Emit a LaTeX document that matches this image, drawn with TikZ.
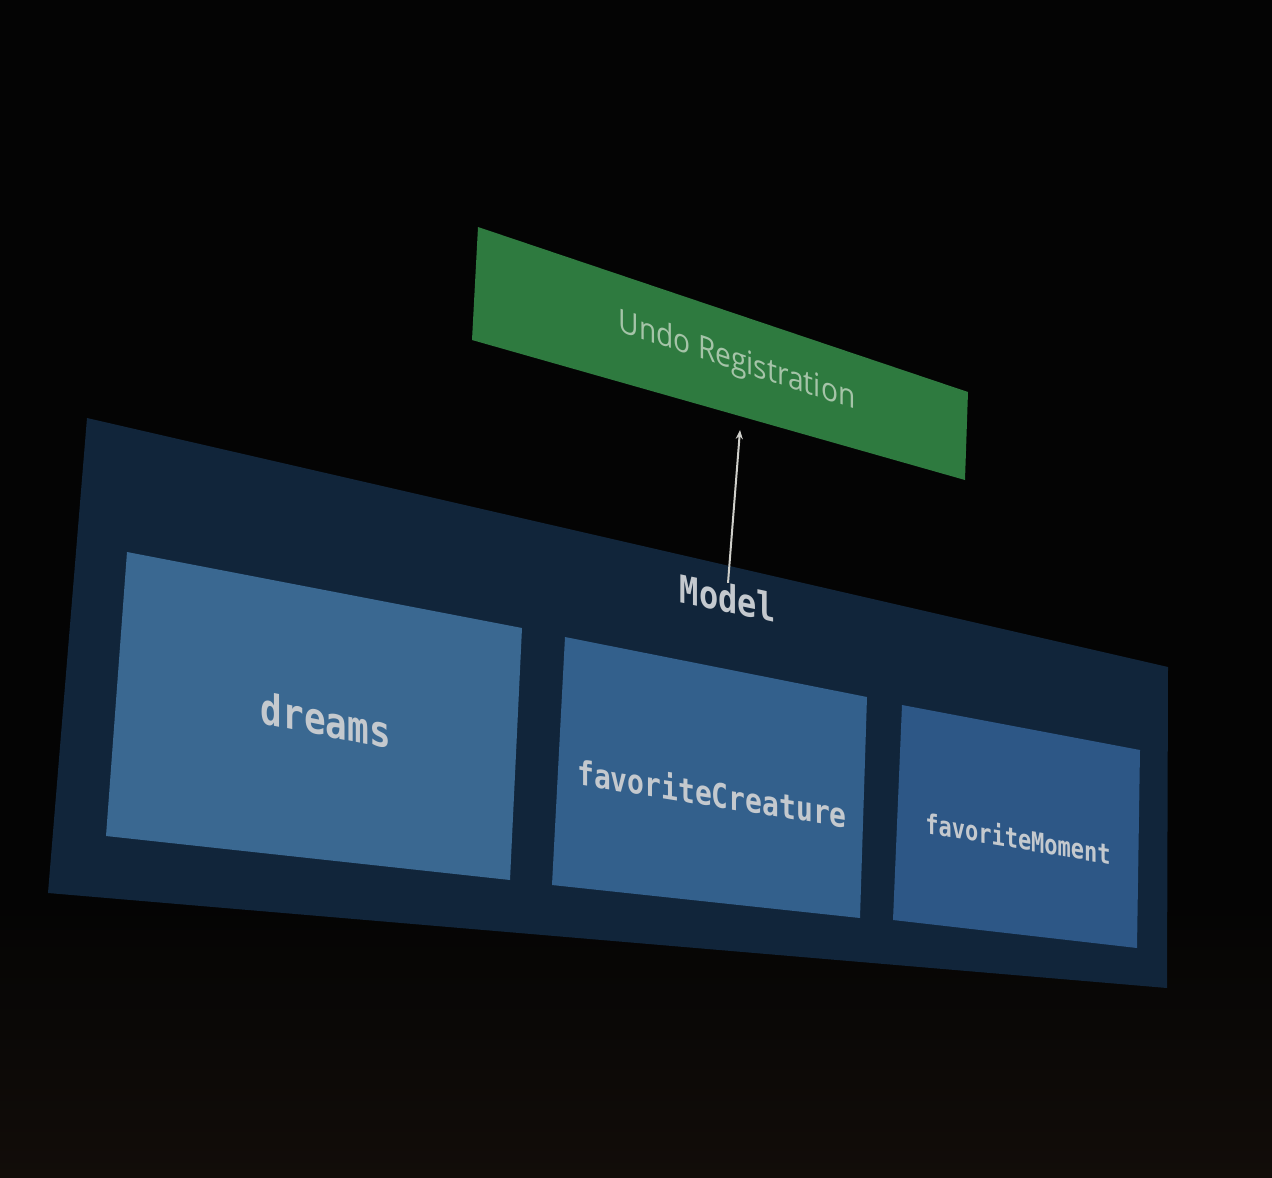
\documentclass[tikz,border=0pt]{standalone}
\usepackage{fontspec}
\setmainfont{Open Sans}
\newfontfamily\monofont{DejaVu Sans Mono}
\usetikzlibrary{arrows.meta}
\definecolor{bgc}{HTML}{040404}
\definecolor{bgbottom}{HTML}{120D09}
\definecolor{greenc}{HTML}{2E7A3F}
\definecolor{greentext}{HTML}{A5C4A8}
\definecolor{panelc}{HTML}{11253A}
\definecolor{boxa}{HTML}{3A6891}
\definecolor{boxb}{HTML}{33608C}
\definecolor{boxc}{HTML}{2D5786}
\definecolor{textc}{HTML}{C4C9CE}
\definecolor{arrowc}{HTML}{CFCFCA}
\tikzset{
  monolabel/.style={text=textc, inner sep=0pt},
  arrowline/.style={draw=arrowc, line width=2pt, -{Stealth[length=9pt,width=7pt]}}
}
\begin{document}
\begin{tikzpicture}[x=1pt,y=-1pt]
\useasboundingbox (0,0) rectangle (1272,1178);
\fill[bgc] (0,0) rectangle (1272,1178);
\shade[top color=bgc, bottom color=bgbottom] (0,900) rectangle (1272,1178);
% green box
\fill[greenc] (478,227) -- (968,392) -- (965,480) -- (472,340) -- cycle;
\node[text=greentext, inner sep=0pt, font=\fontsize{30}{32}\selectfont, yslant=-0.33, xscale=0.94, yscale=1.08] (undo) at (737,362) {Undo Registration};
\coordinate (undotip) at (740,430);
% panel
\fill[panelc] (87,418) -- (1168,667) -- (1167,988) -- (48,893) -- cycle;
% inner boxes
\fill[boxa] (127,552) -- (522,628) -- (510,880) -- (106,836) -- cycle;
\fill[boxb] (565,637) -- (867,697) -- (860,918) -- (552,885) -- cycle;
\fill[boxc] (902,705) -- (1140,750) -- (1137,948) -- (893,920) -- cycle;
\node[monolabel, font=\monofont\bfseries\fontsize{32}{34}\selectfont, yslant=-0.21, yscale=1.2] (model) at (728,598) {Model};
\node[monolabel, font=\monofont\bfseries\fontsize{36}{38}\selectfont, yslant=-0.2, yscale=1.2] (dreams) at (326,720) {dreams};
\node[monolabel, font=\monofont\bfseries\fontsize{28}{30}\selectfont, yslant=-0.16, yscale=1.2] (creature) at (712,793) {favoriteCreature};
\node[monolabel, font=\monofont\bfseries\fontsize{22}{24}\selectfont, yslant=-0.17, yscale=1.25] (moment) at (1018,838) {favoriteMoment};
% arrow
\draw[arrowline] (model.north) -- (undotip);
\end{tikzpicture}
\end{document}
